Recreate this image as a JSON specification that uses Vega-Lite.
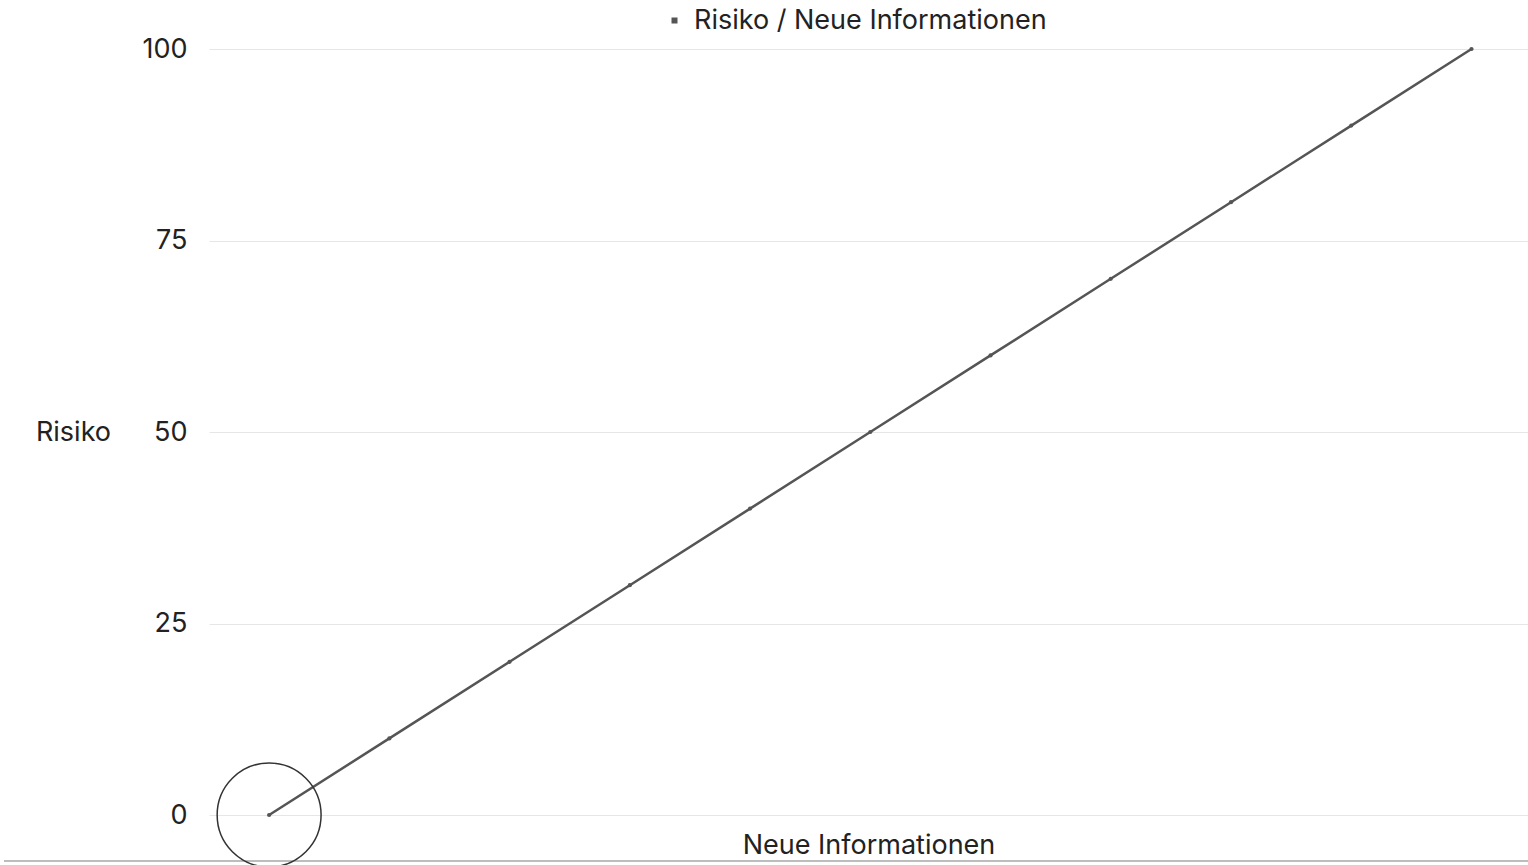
{
  "$schema": "https://vega.github.io/schema/vega-lite/v6.json",
  "width": 1319,
  "height": 766,
  "autosize": "none",
  "padding": {"left": 209, "top": 49, "right": 0, "bottom": 50},
  "background": "white",
  "config": {"view": {"stroke": null}, "font": "Inter"},
  "data": {"values": [
    {"info": 0, "risiko": 0},
    {"info": 1, "risiko": 10},
    {"info": 2, "risiko": 20},
    {"info": 3, "risiko": 30},
    {"info": 4, "risiko": 40},
    {"info": 5, "risiko": 50},
    {"info": 6, "risiko": 60},
    {"info": 7, "risiko": 70},
    {"info": 8, "risiko": 80},
    {"info": 9, "risiko": 90},
    {"info": 10, "risiko": 100}
  ]},
  "layer": [
    {
      "mark": {"type": "line", "strokeWidth": 2.5},
      "encoding": {
        "x": {"field": "info", "type": "quantitative",
          "scale": {"domain": [-0.5, 10.47], "nice": false, "zero": false},
          "axis": {"labels": false, "ticks": false, "domain": false, "grid": false,
            "title": "Neue Informationen", "titleFontSize": 27, "titleFontWeight": "normal",
            "titleColor": "#222", "titlePadding": 17}},
        "y": {"field": "risiko", "type": "quantitative",
          "scale": {"domain": [0, 100], "nice": false},
          "axis": {"values": [0, 25, 50, 75, 100], "ticks": false, "domain": false, "grid": true,
            "gridColor": "#e6e6e6", "gridWidth": 1, "labelFontSize": 27, "labelColor": "#222",
            "labelPadding": 22, "title": "Risiko", "titleAngle": 0, "titleX": -136, "titleY": 383,
            "titleAlign": "center", "titleBaseline": "middle", "titleFontSize": 27,
            "titleFontWeight": "normal", "titleColor": "#222"}},
        "color": {"datum": "Risiko / Neue Informationen", "type": "nominal",
          "scale": {"range": ["#555555"]},
          "legend": {"title": null, "orient": "none", "legendX": 452, "legendY": -42,
            "symbolType": "square", "symbolSize": 36, "symbolFillColor": "#555555",
            "symbolStrokeWidth": 0, "labelFontSize": 27, "labelLimit": 1000,
            "labelColor": "#222", "labelOffset": 6}}
      }
    },
    {
      "mark": {"type": "rule", "color": "#bdbdbd", "strokeWidth": 2, "clip": false},
      "encoding": {
        "x": {"datum": -2.2, "type": "quantitative"},
        "x2": {"datum": 10.6},
        "y": {"datum": -6.0, "type": "quantitative"}
      }
    },
    {
      "mark": {"type": "point", "filled": true, "color": "#555555", "size": 18, "opacity": 1},
      "encoding": {
        "x": {"field": "info", "type": "quantitative"},
        "y": {"field": "risiko", "type": "quantitative"}
      }
    },
    {
      "transform": [{"filter": "datum.info == 0"}],
      "mark": {"type": "point", "filled": false, "color": "#333333", "size": 10800, "strokeWidth": 1.5, "opacity": 1},
      "encoding": {
        "x": {"field": "info", "type": "quantitative"},
        "y": {"field": "risiko", "type": "quantitative"}
      }
    }
  ]
}
